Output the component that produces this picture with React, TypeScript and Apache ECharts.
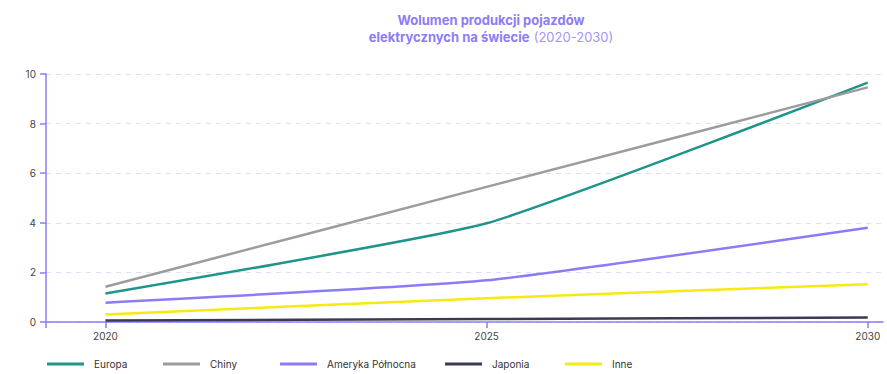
import React, { useEffect, useRef } from "react";
import * as echarts from "echarts";

const years = [2020, 2025, 2030];
const europa = [1.15, 3.98, 9.65];
const chiny = [1.42, 5.45, 9.46];
const amerykaPolnocna = [0.78, 1.68, 3.8];
const japonia = [0.06, 0.12, 0.18];
const inne = [0.3, 0.96, 1.52];
const yTicks = [0, 2, 4, 6, 8, 10];

const seriesDefs = [
  { name: "Europa", data: europa, color: "#1f958a" },
  { name: "Chiny", data: chiny, color: "#9c9c9c" },
  { name: "Ameryka Północna", data: amerykaPolnocna, color: "#8b7cf6" },
  { name: "Japonia", data: japonia, color: "#3b3a55" },
  { name: "Inne", data: inne, color: "#f6ea12" },
];
const legendLefts = [47, 163, 280, 445, 565];

export default function App() {
  const ref = useRef<HTMLDivElement>(null);
  useEffect(() => {
    document.body.style.margin = "0";
    const chart = echarts.init(ref.current!, null, { renderer: "svg" });
    const font = "Inter, 'Noto Sans', sans-serif";
    chart.setOption({
      animation: false,
      textStyle: { fontFamily: font },
      title: {
        left: 486,
        top: 6,
        textAlign: "center",
        text: "{b|Wolumen produkcji pojazdów}\n{b|elektrycznych na świecie} {n|(2020-2030)}",
        textStyle: {
          rich: {
            b: { fontSize: 13, fontWeight: "bold", color: "#8c7cf6", lineHeight: 17, fontFamily: font },
            n: { fontSize: 13, fontWeight: "normal", color: "#a396f8", lineHeight: 17, fontFamily: font },
          },
        },
      },
      legend: seriesDefs.map((s, i) => ({
        data: [s.name],
        left: legendLefts[i],
        top: 359,
        itemWidth: 37,
        itemHeight: 3,
        itemGap: 0,
        icon: "rect",
        textStyle: { fontSize: 10, color: "#333", fontFamily: font, padding: [0, 0, 0, 5] },
        padding: 0,
      })),
      grid: { left: 46, right: 4, top: 74, bottom: 52 },
      xAxis: {
        type: "value",
        min: 2019.22,
        max: 2030.2,
        splitLine: { show: false },
        axisLine: { show: true, lineStyle: { color: "#8b7cf6", width: 1.5 } },
        axisTick: { show: true, customValues: years, length: 6, lineStyle: { color: "#8b7cf6", width: 1.5 } },
        axisLabel: {
          customValues: years,
          fontSize: 10,
          color: "#444",
          margin: 9,
          fontFamily: font,
          formatter: (v: number) => String(v),
        },
      },
      yAxis: {
        type: "value",
        min: 0,
        max: 10,
        interval: 2,
        axisLine: { show: true, lineStyle: { color: "#8b7cf6", width: 1.5 } },
        axisTick: { show: true, length: 6, lineStyle: { color: "#8b7cf6", width: 1.5 } },
        axisLabel: { fontSize: 10, color: "#444", margin: 10, fontFamily: font, customValues: yTicks },
        splitLine: { show: true, lineStyle: { color: "#e0dcfc", type: [5, 5], width: 1 } },
      },
      graphic: [
        { type: "line", shape: { x1: 46, y1: 322, x2: 46, y2: 328 }, style: { stroke: "#8b7cf6", lineWidth: 1.5 } },
      ],
      series: seriesDefs.map((s) => ({
        name: s.name,
        type: "line",
        data: years.map((y, i) => [y, s.data[i]]),
        smooth: 0.15,
        symbol: "none",
        lineStyle: { color: s.color, width: 2.5 },
        itemStyle: { color: s.color },
      })),
    });
    return () => chart.dispose();
  }, []);
  return <div ref={ref} style={{ width: 887, height: 374, position: "absolute", left: 0, top: 0 }} />;
}
